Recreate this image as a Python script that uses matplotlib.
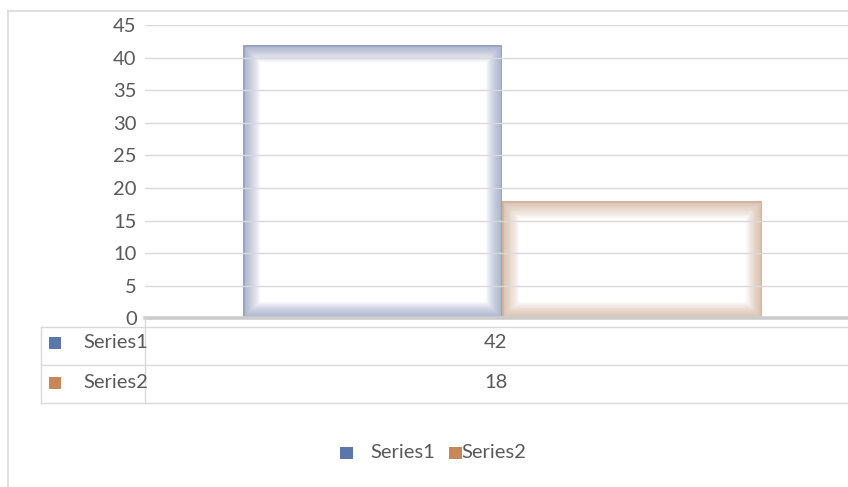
import matplotlib
matplotlib.use("Agg")
import matplotlib.pyplot as plt
from matplotlib.patches import Rectangle
from matplotlib.lines import Line2D

# ---- data ----
series_names = ["Series1", "Series2"]
series_values = [42, 18]
series_colors = ["#5b77a9", "#c6885b"]
edge_colors = ["#6d7cab", "#c39577"]
yticks = [0, 5, 10, 15, 20, 25, 30, 35, 40, 45]

W, H = 848, 487
plt.rcParams['font.family'] = ['Lato', 'DejaVu Sans']
TXT = "#595959"
GRID = "#d9d9d9"
FS = 14.5

fig = plt.figure(figsize=(W / 100, H / 100), dpi=100)
fig.patch.set_facecolor("white")

def fx(px):
    return px / W

def fy(py):
    return 1 - py / H

# axes: left at 145px, extends beyond the image to 859px; y 0 at 318.4, 45 at 25
ax = fig.add_axes([fx(145), fy(318.4), (859 - 145) / W, (318.4 - 25) / H])
ax.set_xlim(-0.5, 0.5)
ax.set_ylim(0, 45)
ax.set_yticks(yticks)
ax.set_yticklabels([str(t) for t in yticks], color=TXT, fontsize=FS)
ax.tick_params(axis='y', length=0, pad=6.0)
ax.set_xticks([])
for s in ax.spines.values():
    s.set_visible(False)
ax.yaxis.grid(True, color=GRID, lw=1, zorder=1)
ax.set_axisbelow(True)

bw = 259.5 / 714
offsets = [-bw, 0]
glow = [(1.5 + 1.4 * i, 0.045) for i in range(17)] + [(2.0, 0.35)]
for name, v, off, ec in zip(series_names, series_values, offsets, edge_colors):
    bars = ax.bar([off], [v], width=bw, align='edge', facecolor='none',
                  edgecolor='none', zorder=0.2, label=name)
    for p in bars.patches:
        # inner glow: stacked strokes clipped to the bar itself
        for lw, a in glow:
            r = Rectangle(p.get_xy(), p.get_width(), p.get_height(), fill=False,
                          edgecolor=ec, lw=lw, alpha=a, zorder=0.3)
            ax.add_patch(r)
            r.set_clip_path(p)

# thick category axis line
ax.axhline(0, color="#cccccc", lw=2.6, zorder=4, clip_on=False)

# ---- data table ----
def hline(y, x0, x1, color=GRID, lw=1.0):
    fig.add_artist(Line2D([fx(x0), fx(x1)], [fy(y), fy(y)], color=color, lw=lw))

def vline(x, y0, y1, color=GRID, lw=1.0):
    fig.add_artist(Line2D([fx(x), fx(x)], [fy(y0), fy(y1)], color=color, lw=lw))

hline(326.5, 40.5, 848)
hline(364.5, 40.5, 848)
hline(402.5, 40.5, 848)
vline(40.5, 326.5, 402.5)
vline(145, 318, 402.5)

row_y = [343, 383]
for name, v, col, y in zip(series_names, series_values, series_colors, row_y):
    fig.add_artist(Rectangle((fx(49), fy(y + 6)), 12 / W, 12 / H, facecolor=col,
                             edgecolor='none', transform=fig.transFigure))
    fig.text(fx(83), fy(y), name, ha='left', va='center', color=TXT, fontsize=FS)
    fig.text(fx(496), fy(y), str(v), ha='center', va='center', color=TXT, fontsize=FS)

# ---- bottom legend ----
leg_sq_x = [339.5, 449]
leg_txt_x = [370, 461]
for name, col, sx, tx in zip(series_names, series_colors, leg_sq_x, leg_txt_x):
    fig.add_artist(Rectangle((fx(sx), fy(459)), 13 / W, 12 / H, facecolor=col,
                             edgecolor='none', transform=fig.transFigure))
    fig.text(fx(tx), fy(453), name, ha='left', va='center', color=TXT, fontsize=FS)

# ---- outer chart border ----
hline(10.5, 7.5, 848, color="#d9d9d9", lw=1.2)
vline(7.5, 10.5, 487, color="#d9d9d9", lw=1.2)

fig.savefig("out.png", dpi=100, facecolor="white")
